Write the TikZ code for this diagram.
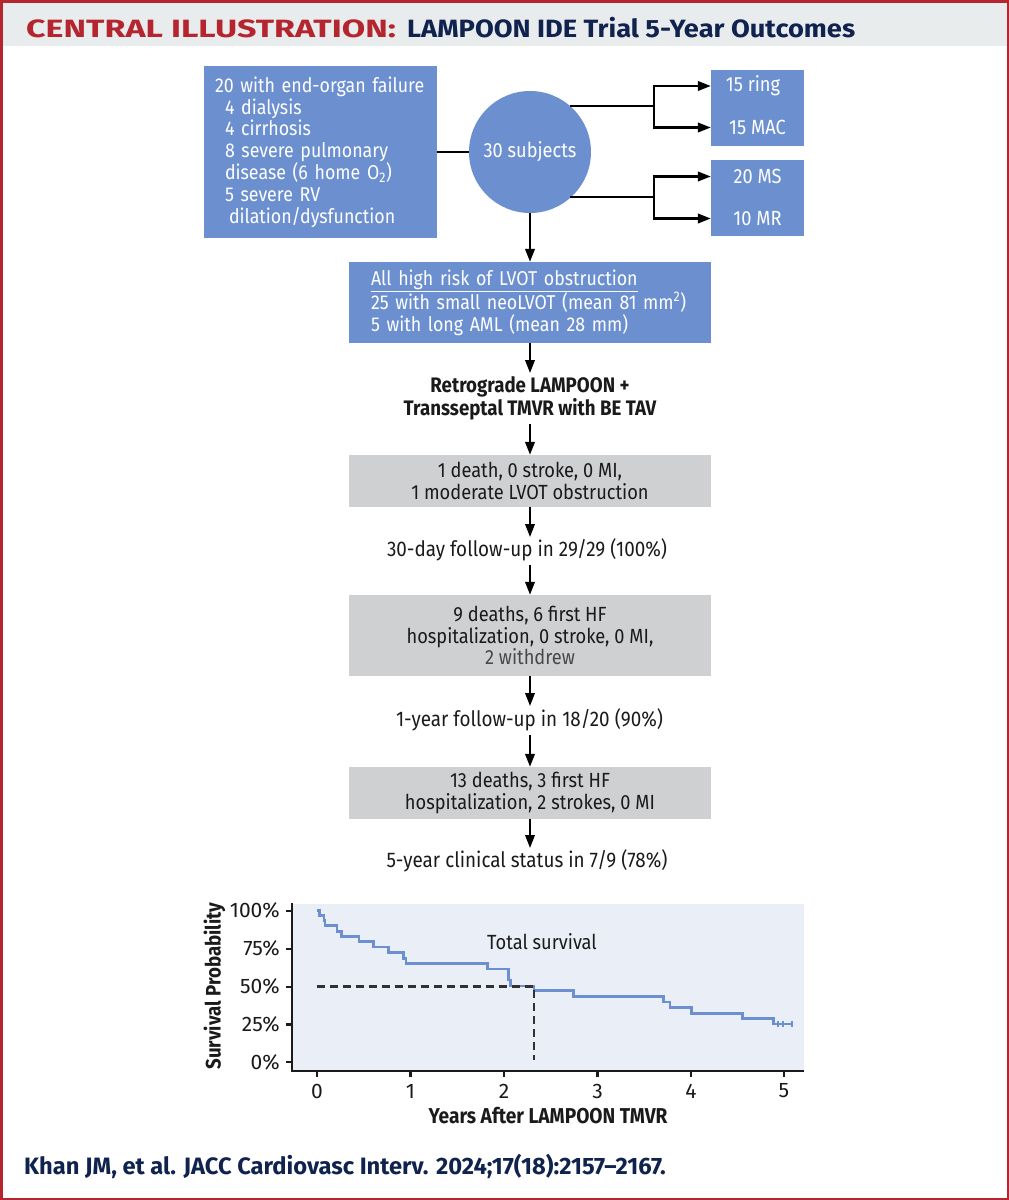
\documentclass[tikz,border=0pt]{standalone}
\usepackage{fontspec}
\setmainfont[FakeStretch=0.89]{Fira Sans}
\newfontfamily\headfont{Fira Sans}
\usetikzlibrary{arrows.meta,shapes.geometric,calc}
\definecolor{boxblue}{RGB}{107,143,207}
\definecolor{boxgray}{RGB}{207,208,210}
\definecolor{panelblue}{RGB}{233,238,247}
\definecolor{headbg}{RGB}{232,236,237}
\definecolor{framered}{RGB}{181,37,47}
\definecolor{titlenavy}{RGB}{16,34,78}
\definecolor{inkdark}{RGB}{26,26,26}
\definecolor{kmblue}{RGB}{107,143,207}
\tikzset{
  body/.style={font=\fontsize{20.5}{21.8}\selectfont},
  bodysmall/.style={font=\fontsize{20}{21.8}\selectfont},
  bodylarge/.style={font=\fontsize{21.2}{22}\selectfont},
  bluebox/.style={rectangle,fill=boxblue,text=white,inner sep=0pt,body},
  graybox/.style={rectangle,fill=boxgray,text=inkdark,inner sep=0pt,minimum width=362pt,align=center,body},
  plain/.style={text=inkdark,inner sep=0pt,align=center,bodylarge},
  conn/.style={line width=2.2pt,draw=black},
  arr/.style={conn,-{Triangle[length=13pt,width=9.5pt]}},
  axisline/.style={line width=2.2pt,draw=inkdark},
  ticklab/.style={text=inkdark,inner sep=0pt,font=\headfont\fontsize{21}{22}\selectfont},
}
\begin{document}
\begin{tikzpicture}[x=1pt,y=-1pt]
\useasboundingbox (0,0) rectangle (1009,1200);
% frame and heading
\fill[headbg] (0,3) rectangle (1009,46);
\draw[framered,line width=3pt] (1,1) rectangle (1008,1199);
\node[anchor=base west,inner sep=0pt,text=framered] (titlea) at (26,37) {\headfont\fontsize{25}{28}\selectfont\bfseries\scalebox{1.36}[1]{CENTRAL ILLUSTRATION:}};
\node[anchor=base west,inner sep=0pt,text=titlenavy] (titleb) at (407,37) {\headfont\fontsize{25}{28}\selectfont\bfseries\scalebox{1.09}[1]{LAMPOON IDE Trial 5-Year Outcomes}};
% top row
\node[bluebox,bodysmall,minimum width=233pt,minimum height=172pt,text width=222pt,align=left] (organ) at (320.5,152) {\hspace*{5.5pt}20 with end-organ failure\\
\hspace*{15.5pt}4 dialysis\\
\hspace*{15.5pt}4 cirrhosis\\
\hspace*{15.5pt}8 severe pulmonary\\
\hspace*{15.5pt}disease (6 home O\textsubscript{2})\\
\hspace*{15.5pt}5 severe RV\\
\hspace*{19.5pt}dilation/dysfunction};
\node[ellipse,fill=boxblue,text=white,inner sep=0pt,minimum width=122pt,minimum height=122pt,body] (subj) at (530,152) {\makebox[0pt]{30 subjects}};
\node[bluebox,minimum width=93pt,minimum height=75.5pt] (ringbox) at (757.5,107.75) {};
\node[inner sep=0pt,text=white,body] (ring) at (753,86) {15 ring};
\node[inner sep=0pt,text=white,body] (mac) at (757.5,127.5) {15 MAC};
\node[bluebox,minimum width=93pt,minimum height=75.5pt] (valvebox) at (757.5,197.75) {};
\node[inner sep=0pt,text=white,body] (ms) at (757.5,176.5) {20 MS};
\node[inner sep=0pt,text=white,body] (mr) at (757.5,218.5) {10 MR};
\coordinate (fork1) at (654,106);
\coordinate (fork2) at (654,197);
\coordinate (edge1) at ($(subj.center)+(40,-46)$);
\coordinate (edge2) at ($(subj.center)+(40,45)$);
\draw[conn] (organ) -- (subj);
\draw[conn] (edge1) -- (fork1);
\draw[conn] (edge2) -- (fork2);
\draw[arr] (fork1) |- (ringbox.west |- ring);
\draw[arr] (fork1) |- (ringbox.west |- mac);
\draw[arr] (fork2) |- (valvebox.west |- ms);
\draw[arr] (fork2) |- (valvebox.west |- mr);
% central column
\node[bluebox,bodysmall,minimum width=362pt,minimum height=81pt,text width=340pt,align=left] (risk) at (530,302.5) {\hspace*{11pt}\underline{All high risk of LVOT obstruction}\\
\hspace*{11pt}25 with small neoLVOT (mean 81 mm\textsuperscript{2})\\
\hspace*{11pt}5 with long AML (mean 28 mm)};
\node[plain,font=\fontsize{21}{23}\selectfont\bfseries] (proc) at (530,398) {Retrograde LAMPOON +\\Transseptal TMVR with BE TAV};
\node[graybox,minimum height=52pt] (g1) at (530,481) {1 death, 0 stroke, 0 MI,\\1 moderate LVOT obstruction};
\node[plain] (fu30) at (527,550) {30-day follow-up in 29/29 (100\%)};
\node[graybox,minimum height=81pt] (g2) at (530,635.5) {9 deaths, 6 first HF\\hospitalization, 0 stroke, 0 MI,\\{\color{inkdark!80}2 withdrew}};
\node[plain] (fu1) at (529.5,720) {1-year follow-up in 18/20 (90\%)};
\node[graybox,minimum height=52pt] (g3) at (530,793) {13 deaths, 3 first HF\\hospitalization, 2 strokes, 0 MI};
\node[plain] (fu5) at (527,861) {5-year clinical status in 7/9 (78\%)};
\coordinate (a30) at (530,565);
\coordinate (b30) at (530,537);
\coordinate (a1) at (530,735);
\coordinate (b1) at (530,706);
\coordinate (b5) at (530,848);
\draw[arr] (subj) -- (risk);
\draw[arr] (risk) -- ($(proc.north)+(0,-3)$);
\draw[arr] ($(proc.south)+(0,4)$) -- (g1);
\draw[arr] (g1) -- (b30);
\draw[arr] (a30) -- (g2);
\draw[arr] (g2) -- (b1);
\draw[arr] (a1) -- (g3);
\draw[arr] (g3) -- (b5);
% survival chart
\fill[panelblue] (292,903.5) rectangle (804,1070);
\draw[kmblue,line width=2.8pt,line join=miter]
 (316.7,910.7) -| (319.3,915.7) -| (324,920.7) -| (325,925.3) -| (337,931.3) -| (341.7,936.7)
 -| (359,941.7) -| (373.3,947) -| (388.3,952.3) -| (403.3,958.3) -| (406,963.3) -| (487.3,969)
 -| (508.3,980) -| (510.5,986) -| (534,990.7) -| (573.3,996.7) -| (663.3,1002) -| (670,1007.3)
 -| (691.3,1013.3) -| (742.3,1018.3) -| (773.3,1024) -- (793.3,1024);
\foreach \xx in {778,783,792}{\draw[kmblue,line width=2pt] (\xx,1021) -- (\xx,1027);}
\draw[inkdark!90,line width=2.5pt,dash pattern=on 8pt off 5pt] (316.7,986.7) -- (534,986.7) -- (534,1060);
\draw[axisline] (292,903) -- (292,1071) -- (804,1071);
\foreach \yy/\lab in {910.7/100\%,948.7/75\%,986.7/50\%,1024.5/25\%,1062.3/0\%}{
  \draw[axisline] (292,\yy) -- (286,\yy);
  \node[ticklab,anchor=east] at (280,\yy) {\lab};
}
\foreach \xx/\lab in {317/0,410.5/1,504/2,597.5/3,691/4,784/5}{
  \draw[axisline] (\xx,1071) -- (\xx,1077);
  \node[ticklab] at (\xx,1091) {\lab};
}
\node[inner sep=0pt,text=inkdark,body] (total) at (542,942) {Total survival};
\node[inner sep=0pt,text=inkdark,rotate=90,font=\fontsize{21}{22}\selectfont\bfseries] (ylab) at (214.5,986) {Survival Probability};
\node[inner sep=0pt,text=inkdark,font=\fontsize{21.5}{22}\selectfont\bfseries] (xlab) at (548,1116) {Years After LAMPOON TMVR};
\node[anchor=west,inner sep=0pt,text=titlenavy,font=\headfont\fontsize{23.7}{25}\selectfont\bfseries] (cite) at (24,1166) {Khan JM, et al. JACC Cardiovasc Interv. 2024;17(18):2157–2167.};
\end{tikzpicture}
\end{document}
